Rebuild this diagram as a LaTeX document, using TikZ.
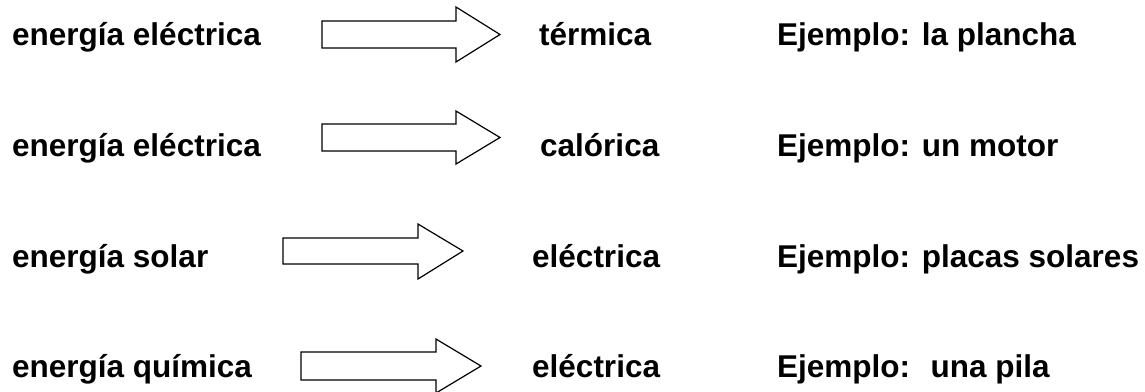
\documentclass[tikz,border=0pt]{standalone}
\usepackage{fontspec}
\setmainfont{Liberation Sans}
\begin{document}
\begin{tikzpicture}[x=1pt,y=-1pt,
  lbl/.style={anchor=base west,inner sep=0pt,font=\fontsize{31.5}{36}\selectfont\bfseries},
  blockarrow/.style={draw=black,line width=1.2pt,fill=white,line join=miter}]
\useasboundingbox (0,0) rectangle (1145,391);
% row 1
\node[lbl] (s1) at (12,45) {energía eléctrica};
\draw[blockarrow] (322,21) -- (456,21) -- (456,7) -- (500,34.5) -- (456,62) -- (456,48) -- (322,48) -- cycle;
\node[lbl] (t1) at (539,45) {térmica};
\node[lbl] (e1) at (777,45) {Ejemplo: la plancha};
% row 2
\node[lbl] (s2) at (12,156) {energía eléctrica};
\draw[blockarrow] (322,124) -- (456,124) -- (456,111) -- (500,137.5) -- (456,164) -- (456,151) -- (322,151) -- cycle;
\node[lbl] (t2) at (540,156) {calórica};
\node[lbl] (e2) at (777,156) {Ejemplo: un motor};
% row 3
\node[lbl] (s3) at (12,267) {energía solar};
\draw[blockarrow] (283,238) -- (418,238) -- (418,224) -- (463,251) -- (418,279) -- (418,264) -- (283,264) -- cycle;
\node[lbl] (t3) at (532,267) {eléctrica};
\node[lbl] (e3) at (777,267) {Ejemplo: placas solares};
% row 4
\node[lbl] (s4) at (12,377) {energía química};
\draw[blockarrow] (301,352) -- (436,352) -- (436,339) -- (481,366) -- (436,393) -- (436,380) -- (301,380) -- cycle;
\node[lbl] (t4) at (532,377) {eléctrica};
\node[lbl] (e4) at (777,377) {Ejemplo:~ una pila};
\end{tikzpicture}
\end{document}
